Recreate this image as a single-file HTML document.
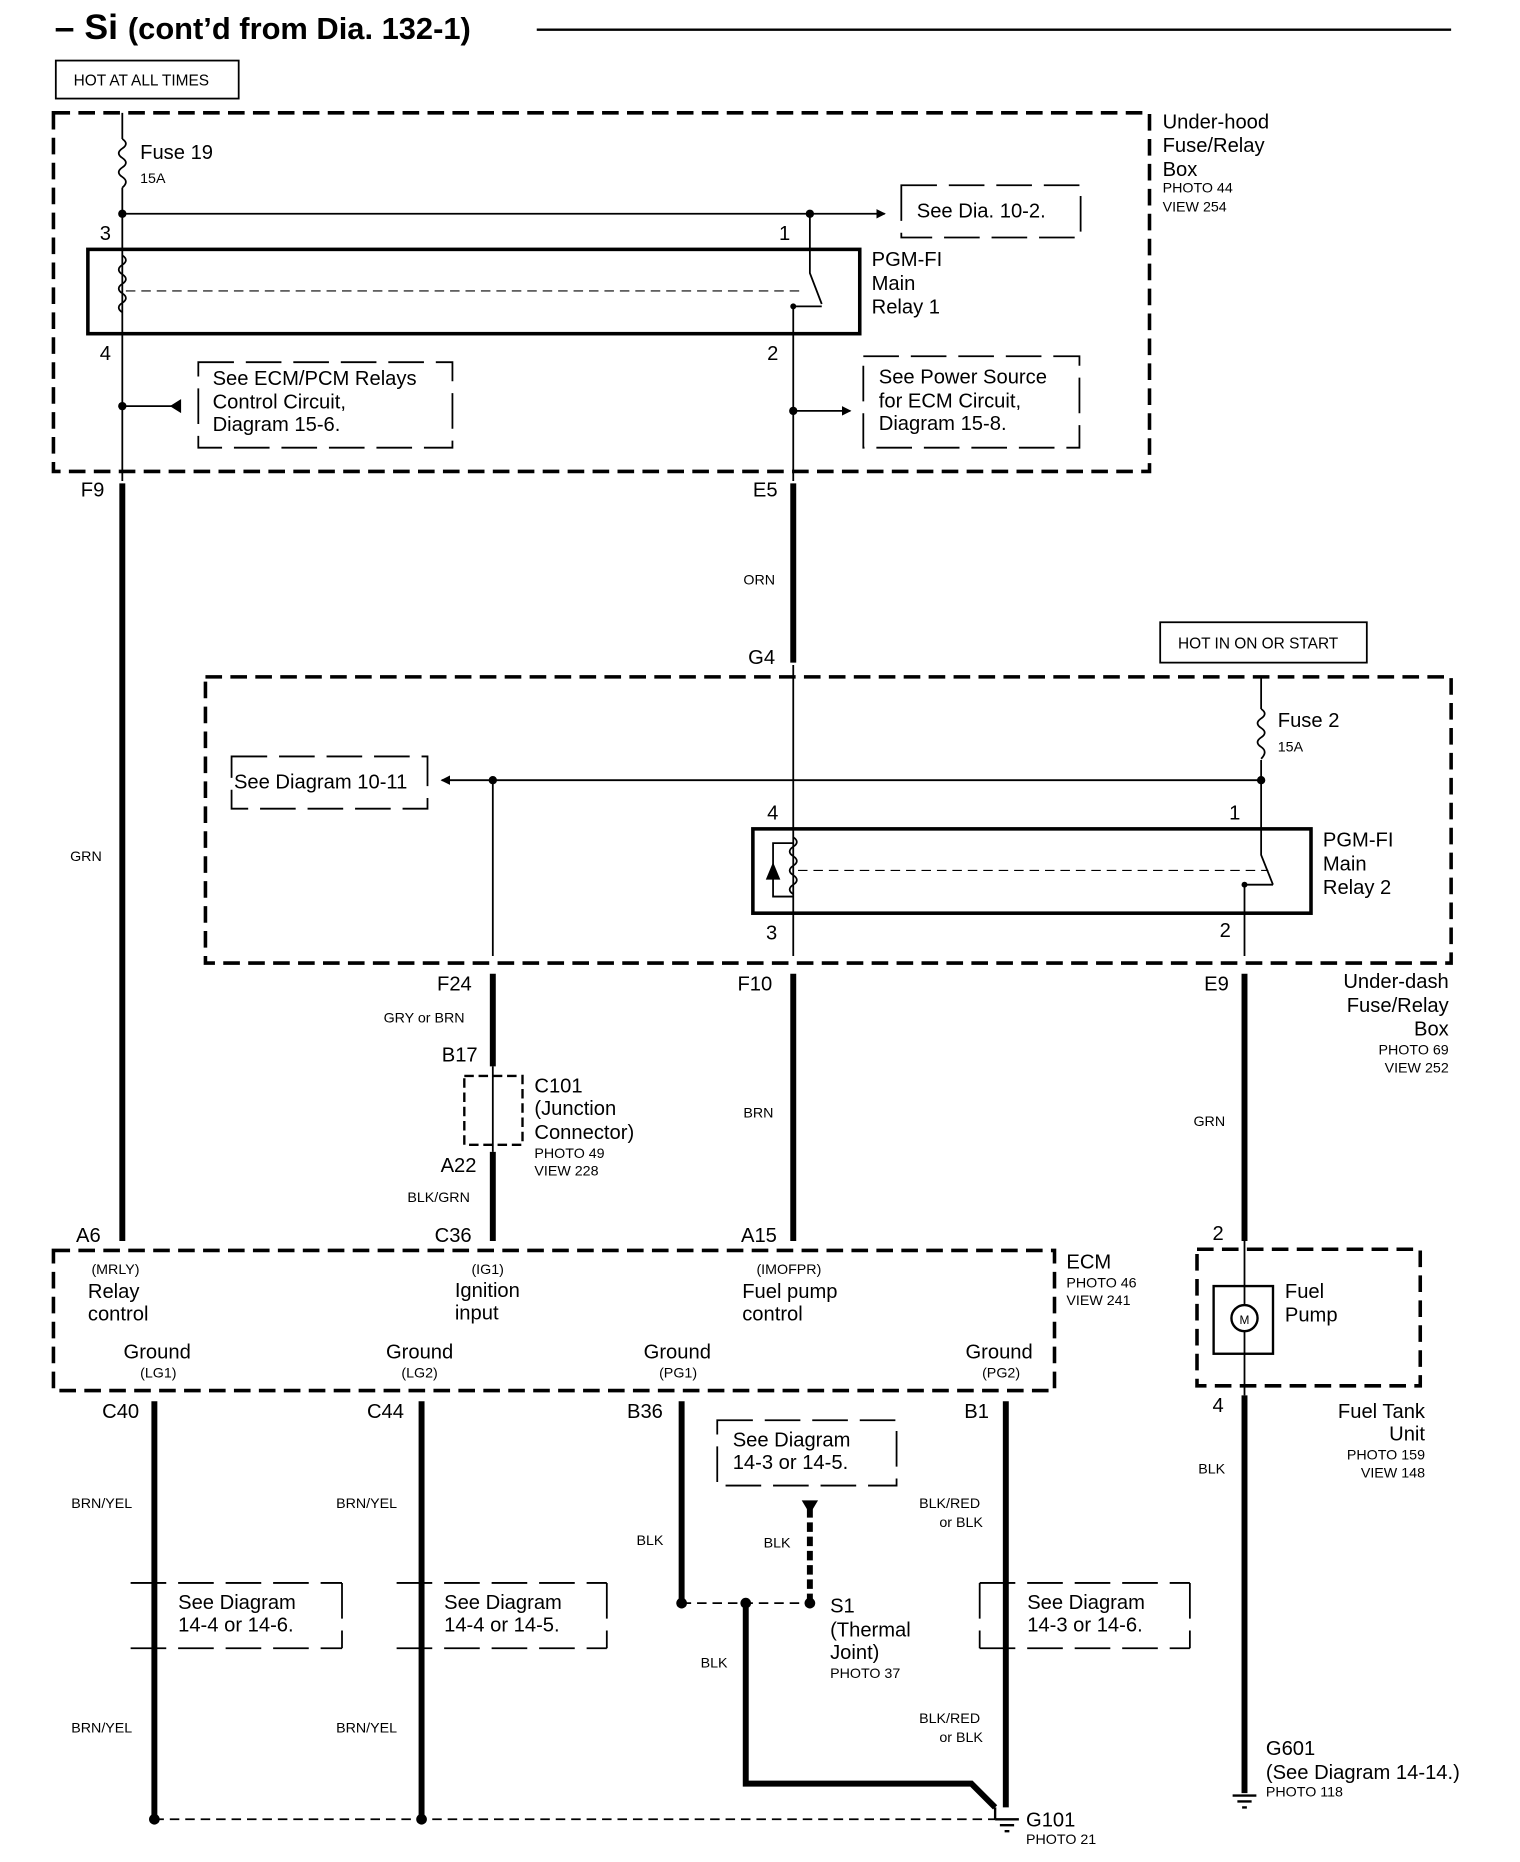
<!DOCTYPE html>
<html><head><meta charset="utf-8"><style>
html,body{margin:0;padding:0;background:#fff;}
svg{display:block;}
text{font-family:"Liberation Sans",sans-serif;fill:#000;}
</style></head><body>
<svg width="1520" height="1862" viewBox="0 0 1280 1568" xmlns="http://www.w3.org/2000/svg">
<defs>
<marker id="ah" markerWidth="8" markerHeight="8" refX="7" refY="4" orient="auto" markerUnits="userSpaceOnUse"><path d="M0,0 L8,4 L0,8 z" fill="#000"/></marker>
</defs>
<g fill="none" stroke="#000">
<line x1="452" y1="25" x2="1222" y2="25" stroke-width="2"/>
<rect x="47" y="51" width="154" height="32" stroke-width="1.5"/>
<rect x="977" y="524" width="174" height="34" stroke-width="1.5"/>
<rect x="45" y="95" width="923" height="302" stroke-width="3" stroke-dasharray="14,7"/>
<rect x="173" y="570" width="1049" height="241" stroke-width="3" stroke-dasharray="14,7"/>
<rect x="45" y="1053" width="843" height="118" stroke-width="3" stroke-dasharray="14,7"/>
<rect x="1008" y="1052" width="188" height="115" stroke-width="3" stroke-dasharray="14,7"/>
<g stroke-width="1.5" stroke-dasharray="30,10">
<path d="M759,156 H910 V200 H759 Z"/>
<path d="M167,305 H381 V377 H167 Z"/>
<path d="M727,300 H909 V377 H727 Z"/>
<path d="M195,637 H360 V681 H195 Z"/>
<path d="M604,1196 H755 V1251 H604 Z"/>
<path d="M110,1333 H288 M110,1388 H288 M288,1333 V1388"/>
<path d="M334,1333 H511 M334,1388 H511 M511,1333 V1388"/>
<path d="M825,1333 H1002 M825,1388 H1002 M825,1333 V1388 M1002,1333 V1388"/>
</g>
<rect x="74" y="210" width="650" height="71" stroke-width="3"/>
<rect x="634" y="698" width="470" height="71" stroke-width="3"/>
<line x1="106" y1="245" x2="675" y2="245" stroke-dasharray="8,5"/>
<line x1="672" y1="733" x2="1068" y2="733" stroke-dasharray="8,5"/>
<path d="M103,95 V117 M103,158 V281 M103,281 V405" stroke-width="1.5"/>
<path d="M103,117 q6,4 0,8 q-6,4 0,8 q6,4 0,8 q-6,4 0,8 q6,4 0,9" stroke-width="1.5"/>
<path d="M103,215 q6,4 0,8 q-6,4 0,8 q6,4 0,8 q-6,4 0,8 q6,4 0,8 q-6,4 0,8" stroke-width="1.5"/>
<line x1="103" y1="180" x2="745" y2="180" stroke-width="1.5" marker-end="url(#ah)"/>
<path d="M682,180 V230 L692,256 M668,258 H692 M668,258 V405" stroke-width="1.5"/>
<line x1="152" y1="342" x2="103" y2="342" stroke-width="1.5"/>
<path d="M152,337 L144,342 L152,347 z" fill="#000"/>
<line x1="668" y1="346" x2="716" y2="346" stroke-width="1.5" marker-end="url(#ah)"/>
<g stroke-width="5">
<line x1="103" y1="407" x2="103" y2="1045"/>
<line x1="668" y1="407" x2="668" y2="558"/>
<line x1="415" y1="820" x2="415" y2="898"/>
<line x1="415" y1="970" x2="415" y2="1045"/>
<line x1="668" y1="820" x2="668" y2="1045"/>
<line x1="1048" y1="820" x2="1048" y2="1045"/>
<line x1="1048" y1="1175" x2="1048" y2="1510"/>
<line x1="130" y1="1180" x2="130" y2="1532"/>
<line x1="355" y1="1180" x2="355" y2="1532"/>
<line x1="574" y1="1180" x2="574" y2="1350"/>
<line x1="847" y1="1180" x2="847" y2="1522"/>
<path d="M628,1350 V1502 H818 L838,1522"/>
<line x1="682" y1="1270" x2="682" y2="1350" stroke-dasharray="8,4"/>
</g>
<path d="M676,1264 H688 L682,1274 z" fill="#000"/>
<path d="M668,560 V805 M1062,570 V597 M1062,640 V698 M1062,698 V720 L1072,745 M1048,745 H1072 M1048,745 V805 M415,657 V805" stroke-width="1.5"/>
<path d="M1062,597 q6,4 0,8 q-6,4 0,8 q6,4 0,8 q-6,4 0,8 q6,4 0,10" stroke-width="1.5"/>
<path d="M668,705 q6,4 0,8 q-6,4 0,8 q6,4 0,8 q-6,4 0,8 q6,4 0,8 q-6,4 0,8" stroke-width="1.5"/>
<path d="M668,710 H651 V755 H668" stroke-width="1.5"/>
<path d="M646,740 H656 M651,728 L646,740 H656 z" stroke-width="1.5" fill="#000"/>
<line x1="1062" y1="657" x2="372" y2="657" stroke-width="1.5" marker-end="url(#ah)"/>
<rect x="391" y="906" width="49" height="58" stroke-width="2" stroke-dasharray="8,4"/>
<path d="M415,898 V970" stroke-width="1.5"/>
<rect x="1022" y="1083" width="50" height="57" stroke-width="2"/>
<circle cx="1048" cy="1110" r="11" stroke-width="2"/>
<path d="M1048,1045 V1099 M1048,1121 V1175" stroke-width="1.5"/>
<path d="M574,1350 H682" stroke-width="1.5" stroke-dasharray="8,5"/>
<path d="M130,1532 H838" stroke-width="1.5" stroke-dasharray="8,5"/>
<path d="M838,1522 V1532" stroke-width="2"/>
</g>
<g fill="#000">
<circle cx="103" cy="180" r="3.5"/><circle cx="682" cy="180" r="3.5"/>
<circle cx="103" cy="342" r="3.5"/><circle cx="668" cy="346" r="3.5"/>
<circle cx="415" cy="657" r="3.5"/><circle cx="1062" cy="657" r="3.5"/>
<circle cx="574" cy="1350" r="4.5"/><circle cx="628" cy="1350" r="4.5"/><circle cx="682" cy="1350" r="4.5"/>
<circle cx="130" cy="1532" r="4.5"/><circle cx="355" cy="1532" r="4.5"/>
<circle cx="668" cy="258" r="2.5"/><circle cx="1048" cy="745" r="2.5"/>
</g>
<g stroke="#000" stroke-width="2">
<path d="M838,1532 H858 M842,1537 H854 M846,1542 H850"/>
<path d="M1038,1512 H1058 M1042,1517 H1054 M1046,1522 H1050"/>
</g>
<text x="46" y="33" font-size="30" font-weight="bold">– Si <tspan font-size="26">(cont’d from Dia.  132-1)</tspan></text>
<g font-size="13">
<text x="62" y="72">HOT AT ALL TIMES</text>
<text x="992" y="546">HOT IN ON OR START</text>
</g>
<g font-size="17">
<text x="118" y="134">Fuse 19</text>
<text x="772" y="183">See Dia. 10-2.</text>
<text x="734" y="224">PGM-FI</text><text x="734" y="244">Main</text><text x="734" y="264">Relay 1</text>
<text x="179" y="324">See ECM/PCM Relays</text><text x="179" y="344">Control Circuit,</text><text x="179" y="363">Diagram 15-6.</text>
<text x="740" y="323">See Power Source</text><text x="740" y="343">for ECM Circuit,</text><text x="740" y="362">Diagram 15-8.</text>
<text x="979" y="108">Under-hood</text><text x="979" y="128">Fuse/Relay</text><text x="979" y="148">Box</text>
<text x="1076" y="612">Fuse 2</text>
<text x="197" y="664">See Diagram 10-11</text>
<text x="1114" y="713">PGM-FI</text><text x="1114" y="733">Main</text><text x="1114" y="753">Relay 2</text>
<text x="1220" y="832" text-anchor="end">Under-dash</text><text x="1220" y="852" text-anchor="end">Fuse/Relay</text><text x="1220" y="872" text-anchor="end">Box</text>
<text x="450" y="920">C101</text><text x="450" y="939">(Junction</text><text x="450" y="959">Connector)</text>
<text x="898" y="1068">ECM</text>
<text x="1082" y="1093">Fuel</text><text x="1082" y="1113">Pump</text>
<text x="74" y="1093">Relay</text><text x="74" y="1112">control</text>
<text x="383" y="1092">Ignition</text><text x="383" y="1111">input</text>
<text x="625" y="1093">Fuel pump</text><text x="625" y="1112">control</text>
<text x="104" y="1144">Ground</text><text x="325" y="1144">Ground</text><text x="542" y="1144">Ground</text><text x="813" y="1144">Ground</text>
<text x="1200" y="1194" text-anchor="end">Fuel Tank</text><text x="1200" y="1213" text-anchor="end">Unit</text>
<text x="617" y="1218">See Diagram</text><text x="617" y="1237">14-3 or 14-5.</text>
<text x="150" y="1355">See Diagram</text><text x="150" y="1374">14-4 or 14-6.</text>
<text x="374" y="1355">See Diagram</text><text x="374" y="1374">14-4 or 14-5.</text>
<text x="865" y="1355">See Diagram</text><text x="865" y="1374">14-3 or 14-6.</text>
<text x="699" y="1358">S1</text><text x="699" y="1378">(Thermal</text><text x="699" y="1397">Joint)</text>
<text x="1066" y="1478">G601</text><text x="1066" y="1498">(See Diagram 14-14.)</text>
<text x="864" y="1538">G101</text>
<text x="84" y="202">3</text><text x="656" y="202">1</text>
<text x="84" y="303">4</text><text x="646" y="303">2</text>
<text x="646" y="690">4</text><text x="1035" y="690">1</text>
<text x="645" y="791">3</text><text x="1027" y="789">2</text>
<text x="68" y="418">F9</text><text x="634" y="418">E5</text><text x="630" y="559">G4</text>
<text x="368" y="834">F24</text><text x="621" y="834">F10</text><text x="1014" y="834">E9</text>
<text x="372" y="894">B17</text><text x="371" y="987">A22</text>
<text x="64" y="1046">A6</text><text x="366" y="1046">C36</text><text x="624" y="1046">A15</text><text x="1021" y="1044">2</text>
<text x="1021" y="1189">4</text>
<text x="86" y="1194">C40</text><text x="309" y="1194">C44</text><text x="528" y="1194">B36</text><text x="812" y="1194">B1</text>
</g>
<g font-size="12">
<text x="118" y="154">15A</text><text x="1076" y="633">15A</text>
<text x="979" y="162">PHOTO 44</text><text x="979" y="178">VIEW 254</text>
<text x="1220" y="888" text-anchor="end">PHOTO 69</text><text x="1220" y="903" text-anchor="end">VIEW 252</text>
<text x="450" y="975">PHOTO 49</text><text x="450" y="990">VIEW 228</text>
<text x="898" y="1084">PHOTO 46</text><text x="898" y="1099">VIEW 241</text>
<text x="1200" y="1229" text-anchor="end">PHOTO 159</text><text x="1200" y="1244" text-anchor="end">VIEW 148</text>
<text x="699" y="1413">PHOTO 37</text><text x="1066" y="1513">PHOTO 118</text><text x="864" y="1553">PHOTO 21</text>
<text x="626" y="492">ORN</text><text x="59" y="725">GRN</text>
<text x="323" y="861">GRY or BRN</text><text x="343" y="1012">BLK/GRN</text>
<text x="626" y="941">BRN</text><text x="1005" y="948">GRN</text>
<text x="77" y="1073">(MRLY)</text><text x="397" y="1073">(IG1)</text><text x="637" y="1073">(IMOFPR)</text>
<text x="118" y="1160">(LG1)</text><text x="338" y="1160">(LG2)</text><text x="555" y="1160">(PG1)</text><text x="827" y="1160">(PG2)</text>
<text x="1009" y="1241">BLK</text>
<text x="60" y="1270">BRN/YEL</text><text x="283" y="1270">BRN/YEL</text>
<text x="774" y="1270">BLK/RED</text><text x="791" y="1286">or BLK</text>
<text x="536" y="1301">BLK</text><text x="643" y="1303">BLK</text><text x="590" y="1404">BLK</text>
<text x="60" y="1459">BRN/YEL</text><text x="283" y="1459">BRN/YEL</text>
<text x="774" y="1451">BLK/RED</text><text x="791" y="1467">or BLK</text>
<text x="1042" y="1115" font-size="10" text-anchor="middle" dx="6">M</text>
</g>
</svg>
</body></html>
